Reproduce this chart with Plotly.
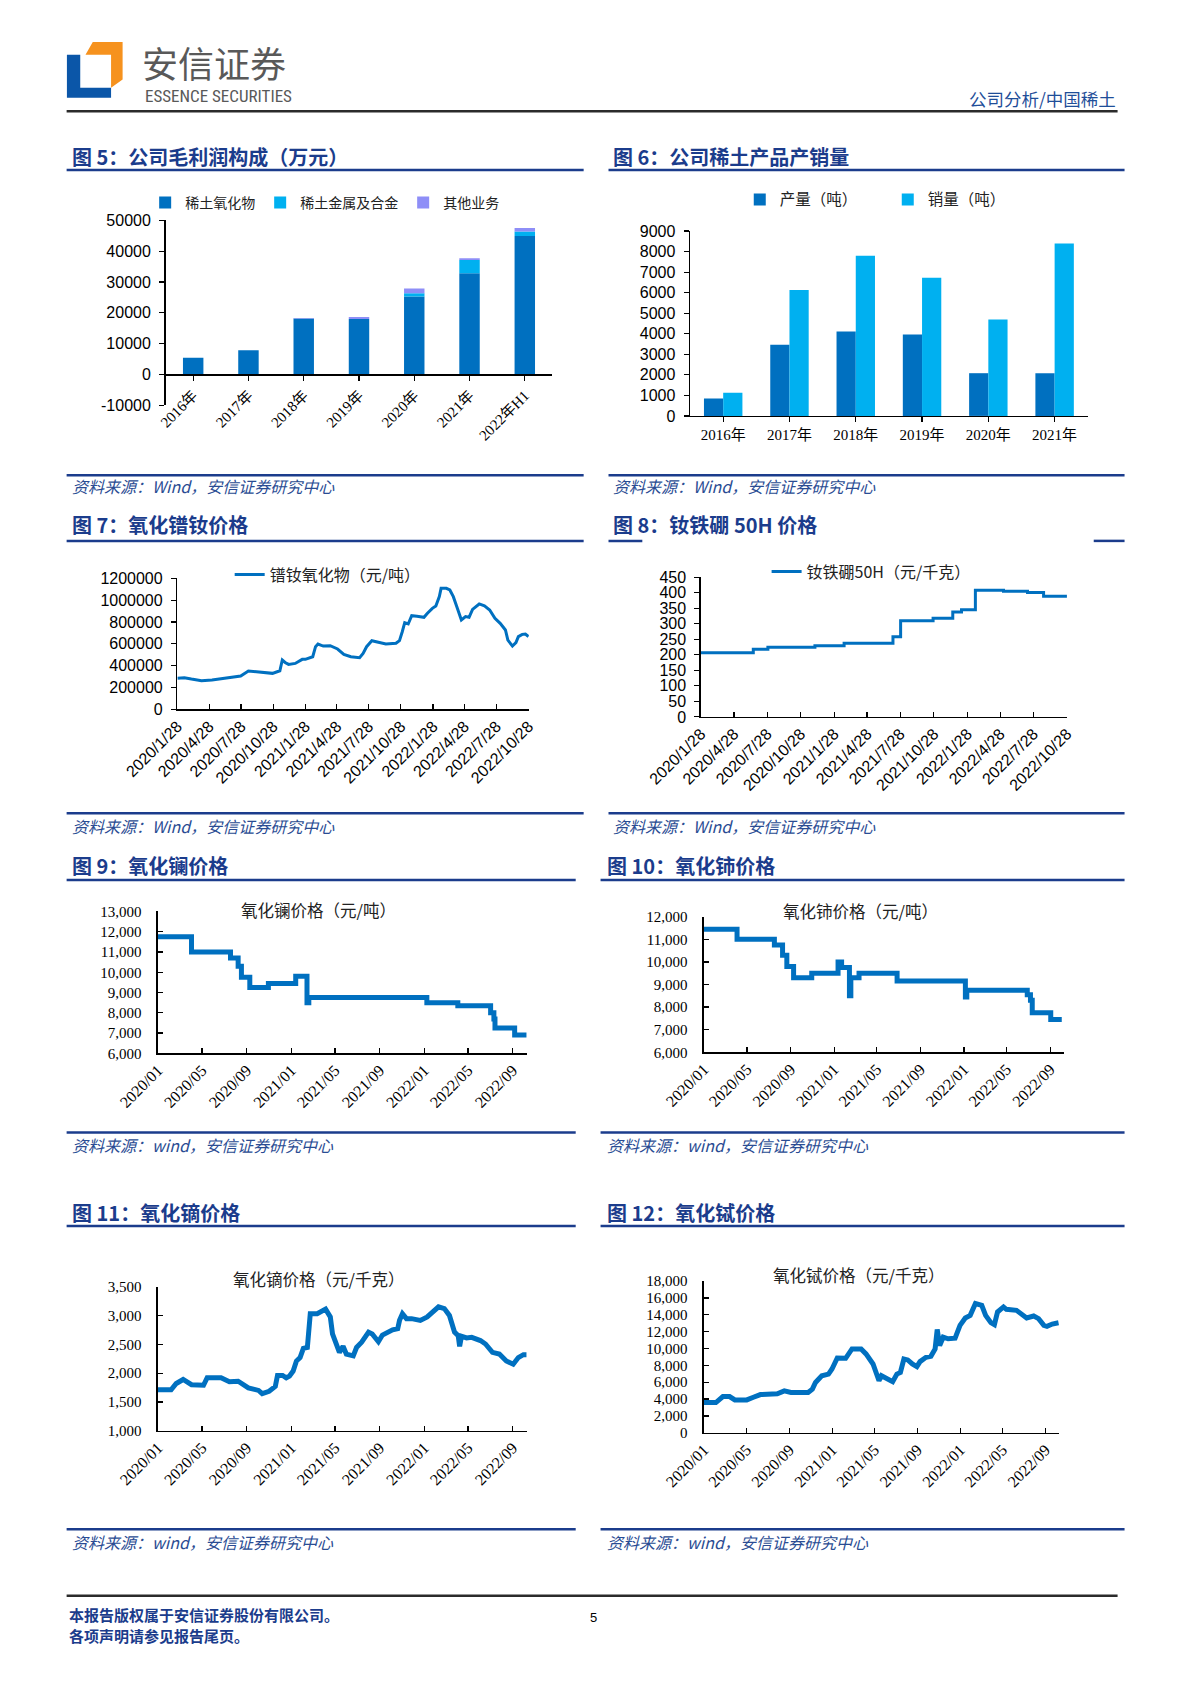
import datetime as dt
import plotly.graph_objects as go

W, H = 1189, 1683

# ---------------- data ----------------
years5 = ["2016年", "2017年", "2018年", "2019年", "2020年", "2021年", "2022年H1"]
gp_oxide = [5400, 7800, 18100, 18000, 25300, 32800, 44900]
gp_metal = [0, 0, 0, 0, 1000, 4300, 1500]
gp_other = [0, 0, 200, 600, 1600, 600, 1100]
gp_ticks = [-10000, 0, 10000, 20000, 30000, 40000, 50000]

years6 = ["2016年", "2017年", "2018年", "2019年", "2020年", "2021年"]
output_t = [850, 3470, 4110, 3970, 2080, 2080]
sales_t = [1130, 6130, 7800, 6730, 4690, 8390]

quarter_ticks = ["2020/1/28", "2020/4/28", "2020/7/28", "2020/10/28", "2021/1/28", "2021/4/28",
                 "2021/7/28", "2021/10/28", "2022/1/28", "2022/4/28", "2022/7/28", "2022/10/28"]

prnd_dates = ["2020-01-28", "2020-02-17", "2020-03-08", "2020-04-06", "2020-05-06", "2020-06-05",
              "2020-07-05", "2020-07-27", "2020-08-18", "2020-09-12", "2020-10-12", "2020-10-26",
              "2020-11-16", "2020-11-23", "2020-12-01", "2020-12-11", "2020-12-30", "2021-01-19",
              "2021-01-28", "2021-02-18", "2021-02-26", "2021-03-05", "2021-03-20", "2021-04-09",
              "2021-04-30", "2021-05-18", "2021-06-07", "2021-07-02", "2021-07-12", "2021-07-22",
              "2021-08-06", "2021-08-26", "2021-09-15", "2021-10-14", "2021-10-24", "2021-11-01",
              "2021-11-08", "2021-11-18", "2021-11-28", "2021-12-13", "2022-01-02", "2022-01-12",
              "2022-01-26", "2022-02-05", "2022-02-15", "2022-02-20", "2022-03-07", "2022-03-17",
              "2022-03-27", "2022-04-06", "2022-04-19", "2022-05-01", "2022-05-11", "2022-05-21",
              "2022-06-09", "2022-06-24", "2022-07-09", "2022-07-24", "2022-08-08", "2022-08-23",
              "2022-08-30", "2022-09-12", "2022-09-22", "2022-09-29", "2022-10-10", "2022-10-19",
              "2022-10-28"]
prnd_price = [285000, 290000, 278000, 263000, 269000, 284000,
              293000, 305000, 351000, 342000, 330000, 330000,
              354000, 452000, 430000, 412000, 421000, 458000,
              458000, 482000, 574000, 598000, 580000, 583000,
              553000, 504000, 482000, 473000, 513000, 574000,
              629000, 611000, 598000, 605000, 629000, 711000,
              794000, 782000, 858000, 852000, 843000, 880000,
              925000, 947000, 1032000, 1108000, 1108000, 1093000,
              1032000, 940000, 818000, 849000, 843000, 916000,
              965000, 947000, 910000, 834000, 788000, 727000,
              635000, 580000, 611000, 666000, 687000, 690000,
              666000]

ndfeb_dates = ["2020-01-28", "2020-06-20", "2020-07-30", "2020-12-06", "2021-02-24", "2021-07-08",
               "2021-07-29", "2021-10-26", "2021-12-19", "2022-01-12", "2022-02-19", "2022-05-07",
               "2022-07-12", "2022-08-25", "2022-10-28"]
ndfeb_price = [207, 218, 224, 229, 237, 258, 310, 318, 338, 345, 408, 405, 401, 389, 389]

la_dates = ["2020-01-01", "2020-04-02", "2020-07-18", "2020-08-08", "2020-08-17", "2020-09-09",
            "2020-10-30", "2021-01-13", "2021-02-13", "2021-02-18", "2022-01-08", "2022-04-03",
            "2022-07-02", "2022-07-11", "2022-07-14", "2022-09-06", "2022-10-09"]
la_price = [11750, 11000, 10700, 10300, 9750, 9250, 9450, 9800, 8500, 8750, 8500, 8350,
            8000, 7700, 7250, 6900, 6900]

ce_dates = ["2020-01-01", "2020-04-03", "2020-07-17", "2020-08-09", "2020-08-21", "2020-09-09",
            "2020-10-30", "2021-01-12", "2021-01-22", "2021-02-13", "2021-02-17", "2021-03-12",
            "2021-06-27", "2022-01-05", "2022-01-09", "2022-06-28", "2022-07-07", "2022-07-12",
            "2022-09-02", "2022-10-03"]
ce_price = [11450, 11000, 10750, 10300, 9800, 9300, 9500, 10000, 9750, 8500, 9300, 9500,
            9150, 8450, 8750, 8550, 8300, 7750, 7450, 7450]

dy_dates = ["2020-01-01", "2020-02-06", "2020-02-20", "2020-03-10", "2020-04-02", "2020-05-05",
            "2020-05-15", "2020-06-22", "2020-07-15", "2020-08-08", "2020-09-05", "2020-10-03",
            "2020-10-13", "2020-11-01", "2020-11-18", "2020-11-24", "2020-12-08", "2020-12-18",
            "2020-12-27", "2021-01-06", "2021-01-15", "2021-01-25", "2021-02-03", "2021-02-14",
            "2021-02-22", "2021-03-13", "2021-04-05", "2021-04-18", "2021-04-24", "2021-05-08",
            "2021-05-13", "2021-05-23", "2021-06-01", "2021-06-20", "2021-06-29", "2021-07-13",
            "2021-07-23", "2021-08-01", "2021-08-11", "2021-08-28", "2021-09-08", "2021-09-22",
            "2021-10-06", "2021-10-20", "2021-10-25", "2021-11-02", "2021-11-13", "2021-11-27",
            "2021-12-21", "2022-01-09", "2022-01-23", "2022-02-09", "2022-02-25", "2022-03-11",
            "2022-03-25", "2022-04-04", "2022-04-08", "2022-04-13", "2022-04-27", "2022-05-11",
            "2022-06-04", "2022-06-18", "2022-07-07", "2022-07-26", "2022-08-14", "2022-09-02",
            "2022-09-16", "2022-09-30", "2022-10-09"]
dy_price = [1710, 1710, 1820, 1890, 1800, 1790,
            1920, 1920, 1850, 1860, 1745, 1700,
            1645, 1685, 1770, 1960, 1960, 1920,
            1950, 2035, 2210, 2270, 2430, 2445,
            3030, 3030, 3110, 2975, 2680, 2475,
            2360, 2465, 2330, 2300, 2445, 2535,
            2650, 2710, 2680, 2545, 2660, 2710,
            2750, 2770, 2915, 3030, 2945, 2945,
            2915, 2975, 3050, 3150, 3120, 3000,
            2710, 2650, 2465, 2640, 2610, 2620,
            2565, 2505, 2360, 2330, 2210, 2155,
            2270, 2320, 2320]

tb_dates = ["2020-01-01", "2020-02-04", "2020-02-24", "2020-03-14", "2020-03-29", "2020-05-02",
            "2020-05-21", "2020-06-10", "2020-07-28", "2020-08-17", "2020-09-05", "2020-10-24",
            "2020-11-05", "2020-11-14", "2020-12-02", "2020-12-21", "2020-12-31", "2021-01-15",
            "2021-02-08", "2021-02-26", "2021-03-24", "2021-04-07", "2021-04-27", "2021-05-07",
            "2021-05-14", "2021-05-21", "2021-06-05", "2021-06-22", "2021-07-04", "2021-07-14",
            "2021-07-24", "2021-08-04", "2021-08-17", "2021-08-30", "2021-09-08", "2021-09-25",
            "2021-10-09", "2021-10-21", "2021-10-27", "2021-11-03", "2021-11-13", "2021-11-27",
            "2021-12-17", "2021-12-31", "2022-01-15", "2022-01-29", "2022-02-13", "2022-03-03",
            "2022-03-14", "2022-03-29", "2022-04-08", "2022-04-17", "2022-05-04", "2022-05-12",
            "2022-06-10", "2022-07-09", "2022-07-29", "2022-08-12", "2022-08-27", "2022-09-05",
            "2022-09-20", "2022-10-08"]
tb_price = [3590, 3590, 4300, 4300, 3900, 3900,
            4220, 4540, 4620, 4980, 4780, 4780,
            5180, 5980, 6770, 6970, 7570, 8880,
            8840, 9960, 9960, 9360, 8170, 7170,
            6180, 6770, 6370, 6060, 6970, 7170,
            8760, 8650, 8170, 7850, 8450, 8960,
            9080, 9960, 12270, 10360, 11350, 11160,
            11230, 12750, 13630, 13940, 15340, 15140,
            13940, 13070, 12830, 14340, 14940, 14660,
            14540, 13630, 13860, 13550, 12750, 12630,
            12910, 13070]

# ---------------- styles ----------------
NAVY = "#1B3C8C"
SRC = "#2A4C93"
BLUE = "#0070C0"
CYAN = "#00B0F0"
LAV = "#8E8EF7"
CJK = "Noto Sans CJK SC"
SANS = "Liberation Sans, Arial, " + CJK
SERIF = "Liberation Serif, Times New Roman, " + CJK
K = 0.9943  # layout scale


def fx(px):
    return px * K / W


def fy(py):
    return 1 - py * K / H


def dom_x(a, b):
    return [fx(a), fx(b)]


def dom_y(top, bottom):
    return [fy(bottom), fy(top)]


fig = go.Figure()

# ---- Fig 5: stacked bars (stack via base) ----
base_metal = gp_oxide
base_other = [a + b for a, b in zip(gp_oxide, gp_metal)]
bw5 = 0.37
fig.add_trace(go.Bar(x=years5, y=gp_oxide, name="稀土氧化物", marker_color=BLUE,
                     width=bw5, offset=-bw5 / 2, xaxis="x", yaxis="y", legend="legend"))
fig.add_trace(go.Bar(x=years5, y=gp_metal, base=base_metal, name="稀土金属及合金", marker_color=CYAN,
                     width=bw5, offset=-bw5 / 2, xaxis="x", yaxis="y", legend="legend"))
fig.add_trace(go.Bar(x=years5, y=gp_other, base=base_other, name="其他业务", marker_color=LAV,
                     width=bw5, offset=-bw5 / 2, xaxis="x", yaxis="y", legend="legend"))

# ---- Fig 6: grouped bars ----
bw6 = 0.29
fig.add_trace(go.Bar(x=years6, y=output_t, name="产量（吨）", marker_color=BLUE,
                     width=bw6, offset=-bw6, xaxis="x2", yaxis="y2", legend="legend2"))
fig.add_trace(go.Bar(x=years6, y=sales_t, name="销量（吨）", marker_color=CYAN,
                     width=bw6, offset=0, xaxis="x2", yaxis="y2", legend="legend2"))

# ---- Fig 7 / 8 ----
fig.add_trace(go.Scatter(x=prnd_dates, y=prnd_price, mode="lines", name="镨钕氧化物（元/吨）",
                         line=dict(color=BLUE, width=3), xaxis="x3", yaxis="y3", legend="legend3"))
fig.add_trace(go.Scatter(x=ndfeb_dates, y=ndfeb_price, mode="lines", name="钕铁硼50H（元/千克）",
                         line=dict(color=BLUE, width=3, shape="hv"), xaxis="x4", yaxis="y4",
                         legend="legend4"))

# ---- Fig 9-12 ----
fig.add_trace(go.Scatter(x=la_dates, y=la_price, mode="lines", showlegend=False,
                         line=dict(color=BLUE, width=5, shape="hv"), xaxis="x5", yaxis="y5"))
fig.add_trace(go.Scatter(x=ce_dates, y=ce_price, mode="lines", showlegend=False,
                         line=dict(color=BLUE, width=5, shape="hv"), xaxis="x6", yaxis="y6"))
fig.add_trace(go.Scatter(x=dy_dates, y=dy_price, mode="lines", showlegend=False,
                         line=dict(color=BLUE, width=5), xaxis="x7", yaxis="y7"))
fig.add_trace(go.Scatter(x=tb_dates, y=tb_price, mode="lines", showlegend=False,
                         line=dict(color=BLUE, width=5), xaxis="x8", yaxis="y8"))


def ax(**kw):
    d = dict(showgrid=False, zeroline=False, showline=True, linecolor="black", linewidth=1.5,
             ticks="outside", ticklen=5, tickcolor="black", tickwidth=1.2, automargin=False,
             fixedrange=True)
    d.update(kw)
    return d


q_vals = [dt.datetime.strptime(t, "%Y/%m/%d").strftime("%Y-%m-%d") for t in quarter_ticks]

# fig 5 zero line position (paper) from its y range and domain
y5_top, y5_bot = 221.6, 407.5
y5_range = [-10000, 50000]
zero_px = y5_bot - (0 - y5_range[0]) / (y5_range[1] - y5_range[0]) * (y5_bot - y5_top)

layout = dict(
    width=W, height=H, margin=dict(l=0, r=0, t=0, b=0),
    paper_bgcolor="white", plot_bgcolor="white", template="none",
    font=dict(family=CJK, color="black"),
    barmode="group",
    # fig 5
    xaxis=ax(domain=dom_x(166.5, 555.6), anchor="free", position=fy(zero_px), type="category",
             range=[-0.5, 6.5], tickangle=-45, tickfont=dict(family=SERIF, size=15)),
    yaxis=ax(domain=dom_y(y5_top, y5_bot), anchor="x", range=y5_range,
             tickvals=gp_ticks, ticktext=[str(v) for v in gp_ticks], ticklabelstandoff=5,
             tickfont=dict(family=SANS, size=16)),
    # fig 6
    xaxis2=ax(domain=dom_x(694, 1094), anchor="y2", type="category", range=[-0.5, 5.5],
              tickfont=dict(family=SERIF, size=15)),
    yaxis2=ax(domain=dom_y(232.4, 418.3), anchor="x2", range=[0, 9000], dtick=1000,
              tickformat="d", ticklabelstandoff=5, tickfont=dict(family=SANS, size=16)),
    # fig 7
    xaxis3=ax(domain=dom_x(178.4, 531.9), anchor="y3", type="date",
              range=["2020-01-28", "2022-10-29"], tickvals=q_vals, ticktext=quarter_ticks,
              tickangle=-45, ticks="inside", tickfont=dict(family=SANS, size=16)),
    yaxis3=ax(domain=dom_y(581.6, 713.5), anchor="x3", range=[0, 1200000], dtick=200000,
              tickformat="d", ticklabelstandoff=5, tickfont=dict(family=SANS, size=16)),
    # fig 8
    xaxis4=ax(domain=dom_x(704.8, 1073.4), anchor="y4", type="date",
              range=["2020-01-28", "2022-10-29"], tickvals=q_vals, ticktext=quarter_ticks,
              tickangle=-45, ticks="inside", tickfont=dict(family=SANS, size=16)),
    yaxis4=ax(domain=dom_y(580.5, 721), anchor="x4", range=[0, 450], dtick=50,
              tickformat="d", ticklabelstandoff=5, tickfont=dict(family=SANS, size=16)),
)

serif_ax = dict(tickfont=dict(family=SERIF, size=15), ticklabelstandoff=12)
date9 = dict(type="date", range=["2020-01-01", "2022-10-09"], tick0="2020-01-01", dtick="M4",
             tickformat="%Y/%m", tickangle=-45, ticks="inside",
             tickfont=dict(family=SERIF, size=16))
layout["xaxis5"] = ax(domain=dom_x(158.9, 529.7), anchor="y5", **date9)
layout["yaxis5"] = ax(domain=dom_y(916.7, 1059.4), anchor="x5", range=[6000, 13000], dtick=1000,
                      tickformat=",", ticks="inside", **serif_ax)
layout["xaxis6"] = ax(domain=dom_x(708, 1070), anchor="y6", **date9)
layout["yaxis6"] = ax(domain=dom_y(922, 1058.3), anchor="x6", range=[6000, 12000], dtick=1000,
                      tickformat=",", ticks="inside", **serif_ax)
layout["xaxis7"] = ax(domain=dom_x(158.9, 529.7), anchor="y7", **date9)
layout["yaxis7"] = ax(domain=dom_y(1294, 1439), anchor="x7", range=[1000, 3500], dtick=500,
                      tickformat=",", ticks="inside", **serif_ax)
layout["xaxis8"] = ax(domain=dom_x(708, 1065), anchor="y8", **date9)
layout["yaxis8"] = ax(domain=dom_y(1288.5, 1441), anchor="x8", range=[0, 18000], dtick=2000,
                      tickformat=",", ticks="inside", **serif_ax)

leg_common = dict(orientation="h", xanchor="left", yanchor="middle", bgcolor="rgba(0,0,0,0)",
                  font=dict(family=CJK, size=14, color="#222"), itemwidth=30,
                  itemclick=False, itemdoubleclick=False)
layout["legend"] = dict(leg_common, x=fx(146), y=fy(204))
layout["legend2"] = dict(leg_common, x=fx(744), y=fy(201), entrywidth=103, entrywidthmode="pixels",
                         font=dict(family=CJK, size=15.5, color="#222"))
layout["legend3"] = dict(leg_common, x=fx(231), y=fy(578), font=dict(family=CJK, size=16, color="#222"))
layout["legend4"] = dict(leg_common, x=fx(771), y=fy(575), font=dict(family=CJK, size=16, color="#222"))

fig.update_layout(**layout)

# ---------------- annotations ----------------
ann = []


def note(text, x, y, size, color="black", family=CJK, xanchor="left", yanchor="middle"):
    ann.append(dict(text=text, x=fx(x), y=fy(y), xref="paper", yref="paper", showarrow=False,
                    xanchor=xanchor, yanchor=yanchor, font=dict(family=family, size=size, color=color)))


# header
note("安信证券", 141, 62, 36, "#595959")
note("ESSENCE SECURITIES", 144, 97, 17, "#595959",
     family="Liberation Sans Narrow, Roboto Condensed, Liberation Sans")
note("公司分析/中国稀土", 1124, 99, 17.5, "#1F4E99", xanchor="right")

# figure titles
titles = [
    ("图 5：公司毛利润构成（万元）", 70, 157),
    ("图 6：公司稀土产品产销量", 614, 157),
    ("图 7：氧化镨钕价格", 70, 528),
    ("图 8：钕铁硼 50H 价格", 614, 528),
    ("图 9：氧化镧价格", 70, 870),
    ("图 10：氧化铈价格", 608, 870),
    ("图 11：氧化镝价格", 70, 1219),
    ("图 12：氧化铽价格", 608, 1219),
]
for t, x, y in titles:
    note("<b>" + t + "</b>", x, y, 20, NAVY)

# sources
sources = [
    ("资料来源：Wind，安信证券研究中心", 70, 489),
    ("资料来源：Wind，安信证券研究中心", 614, 489),
    ("资料来源：Wind，安信证券研究中心", 70, 831),
    ("资料来源：Wind，安信证券研究中心", 614, 831),
    ("资料来源：wind，安信证券研究中心", 70, 1152),
    ("资料来源：wind，安信证券研究中心", 608, 1152),
    ("资料来源：wind，安信证券研究中心", 70, 1551),
    ("资料来源：wind，安信证券研究中心", 608, 1551),
]
for t, x, y in sources:
    note("<i>" + t + "</i>", x, y, 16, SRC)

# in-chart titles (fig 9-12)
note("氧化镧价格（元/吨）", 320, 915, 16.5, "#222", xanchor="center")
note("氧化铈价格（元/吨）", 865, 916, 16.5, "#222", xanchor="center")
note("氧化镝价格（元/千克）", 320, 1286, 16.5, "#222", xanchor="center")
note("氧化铽价格（元/千克）", 863, 1282, 16.5, "#222", xanchor="center")

# footer
note("<b>本报告版权属于安信证券股份有限公司。</b>", 67, 1624, 15, NAVY)
note("<b>各项声明请参见报告尾页。</b>", 67, 1645, 15, NAVY)
note("5", 597, 1627, 13, "black", family=SANS, xanchor="center")

fig.update_layout(annotations=ann)

# ---------------- shapes ----------------
shapes = []


def hline(x0, x1, y, color, width):
    shapes.append(dict(type="line", xref="paper", yref="paper", x0=fx(x0), x1=fx(x1),
                       y0=fy(y), y1=fy(y), line=dict(color=color, width=width)))


def poly(pts, color):
    path = "M " + " L ".join(f"{fx(px):.5f},{fy(py):.5f}" for px, py in pts) + " Z"
    shapes.append(dict(type="path", xref="paper", yref="paper", path=path,
                       fillcolor=color, line=dict(width=0)))


# logo
poly([(93.3, 42.3), (123.3, 42.3), (123.3, 80), (111.7, 88.3), (111.7, 55), (86, 55)], "#F6921E")
poly([(67.3, 55), (80.7, 55), (80.7, 88.3), (111.7, 88.3), (111.7, 98.3), (67.3, 98.3)], "#0B56A8")

hline(67, 1124, 112, "#2B2B2B", 2.5)
hline(67, 1124, 1605, "#2B2B2B", 2.5)

# title underlines
hline(67, 587, 171, NAVY, 2.5)
hline(612, 1131, 171, NAVY, 2.5)
hline(67, 587, 544, NAVY, 2.5)
hline(612, 646, 544, NAVY, 2.5)
hline(1100, 1131, 544, NAVY, 2.5)
hline(67, 579, 885, NAVY, 2.5)
hline(604, 1131, 885, NAVY, 2.5)
hline(67, 579, 1233, NAVY, 2.5)
hline(604, 1131, 1233, NAVY, 2.5)
# source lines
hline(67, 587, 478, NAVY, 2.5)
hline(612, 1131, 478, NAVY, 2.5)
hline(67, 587, 818, NAVY, 2.5)
hline(612, 1131, 818, NAVY, 2.5)
hline(67, 579, 1139, NAVY, 2.5)
hline(604, 1131, 1139, NAVY, 2.5)
hline(67, 579, 1538, NAVY, 2.5)
hline(604, 1131, 1538, NAVY, 2.5)

fig.update_layout(shapes=shapes)

fig.write_html("out.html", config={"staticPlot": True},
               post_script="document.body.style.margin='0';document.body.style.padding='0';")
